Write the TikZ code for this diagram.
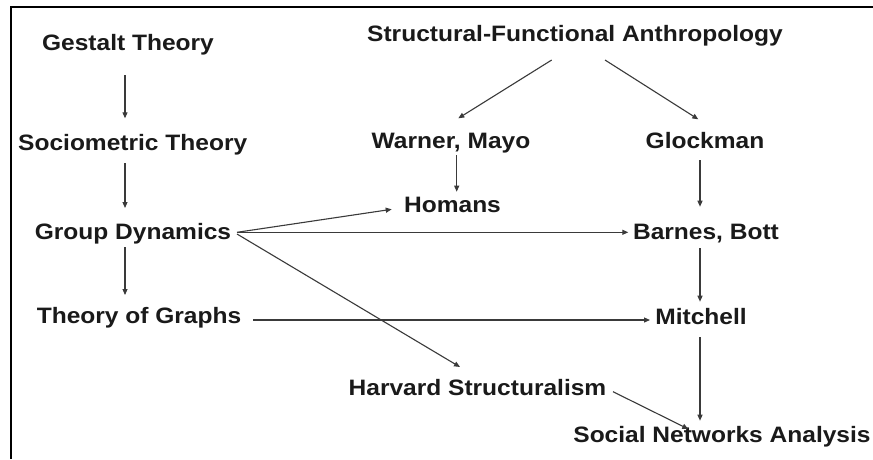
\documentclass[tikz,border=0pt]{standalone}
\usepackage{fontspec}
\setmainfont{Liberation Sans}
\usetikzlibrary{arrows.meta,calc}
\definecolor{txtcol}{HTML}{1A1A1A}
\definecolor{arrcol}{HTML}{3A3A3A}
\newcommand\sx[1]{\scalebox{1.10}[1]{#1}}
\tikzset{
  lbl/.style={anchor=base, inner sep=0pt, text=txtcol,
    font=\bfseries\fontsize{22.3}{26}\selectfont},
  arr/.style={draw=arrcol, line width=1.1pt,
    -{Triangle[length=6pt,width=5pt]}},
  frame/.style={draw=black, line width=2pt}
}
\begin{document}
\begin{tikzpicture}[x=1pt,y=-1pt]
\fill[white] (0,0) rectangle (873,459);
\useasboundingbox (0,0) rectangle (873,459);
\draw[frame] (873,7) -- (11,7) -- (11,459);

\node[lbl] (gestalt)  at (128,50)    {\sx{Gestalt Theory}};
\node[lbl] (socio)    at (132.7,150) {\sx{Sociometric Theory}};
\node[lbl] (gd)       at (133,239)   {\sx{Group Dynamics}};
\node[lbl] (tog)      at (139,323)   {\sx{Theory of Graphs}};
\node[lbl] (sfa)      at (575,41)    {\sx{Structural-Functional Anthropology}};
\node[lbl] (warner)   at (451,148)   {\sx{Warner, Mayo}};
\node[lbl] (glock)    at (705,148)   {\sx{Glockman}};
\node[lbl] (homans)   at (452.5,212.5) {\sx{Homans}};
\node[lbl] (barnes)   at (706,239)   {\sx{Barnes, Bott}};
\node[lbl] (mitchell) at (701,324)   {\sx{Mitchell}};
\node[lbl] (harvard)  at (477.5,395) {\sx{Harvard Structuralism}};
\node[lbl] (sna)      at (722,442)   {\sx{Social Networks Analysis}};

\draw[arr] ($(gestalt.base)+(-3,25)$) -- ($(socio.base)+(-7.7,-31.7)$);
\draw[arr] ($(socio.base)+(-7.7,13)$) -- ($(gd.base)+(-8,-31)$);
\draw[arr] ($(gd.base)+(-8,8)$) -- ($(tog.base)+(-14,-28)$);
\draw[arr] ($(gd.base)+(104,-6.7)$) -- ($(homans.base)+(-60.8,-3.2)$);
\draw[arr] ($(gd.base)+(104,-6.7)$) -- ($(barnes.base)+(-77.7,-6.7)$);
\draw[arr] ($(gd.base)+(104,-5)$) -- ($(harvard.base)+(-17.5,-28)$);
\draw[arr] ($(tog.base)+(114.3,-3)$) -- ($(mitchell.base)+(-51,-4)$);
\draw[arr] ($(sfa.base)+(-23.3,19)$) -- ($(warner.base)+(7.3,-29.7)$);
\draw[arr] ($(sfa.base)+(30,19)$) -- ($(glock.base)+(-6.7,-28.7)$);
\draw[arr] ($(warner.base)+(5.7,7)$) -- ($(homans.base)+(4.2,-20.8)$);
\draw[arr] ($(glock.base)+(-5,12)$) -- ($(barnes.base)+(-6,-32.3)$);
\draw[arr] ($(barnes.base)+(-6,9.3)$) -- ($(mitchell.base)+(-1,-22.3)$);
\draw[arr] ($(mitchell.base)+(-1,13)$) -- ($(sna.base)+(-22,-21.3)$);
\draw[arr] ($(harvard.base)+(135.5,-3.3)$) -- ($(sna.base)+(-33.7,-13)$);
\end{tikzpicture}
\end{document}
